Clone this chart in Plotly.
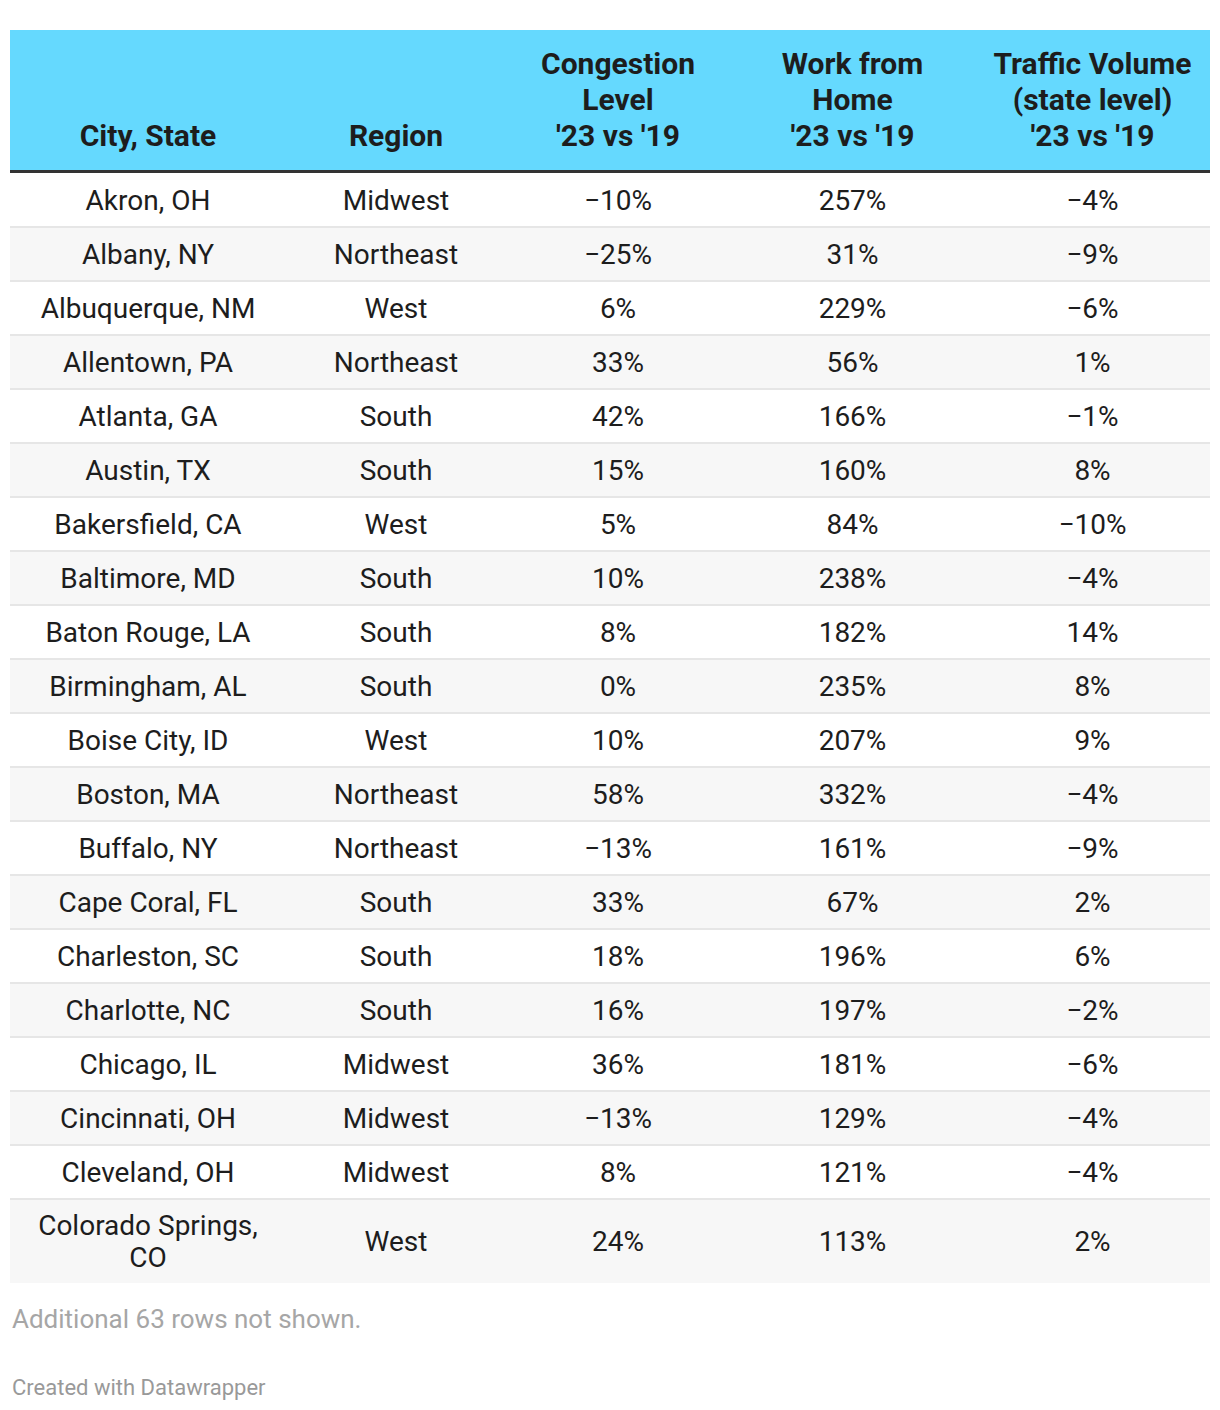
import plotly.graph_objects as go

# Table data
cities = ["Akron, OH", "Albany, NY", "Albuquerque, NM", "Allentown, PA", "Atlanta, GA",
          "Austin, TX", "Bakersfield, CA", "Baltimore, MD", "Baton Rouge, LA", "Birmingham, AL",
          "Boise City, ID", "Boston, MA", "Buffalo, NY", "Cape Coral, FL", "Charleston, SC",
          "Charlotte, NC", "Chicago, IL", "Cincinnati, OH", "Cleveland, OH", "Colorado Springs, CO"]
regions = ["Midwest", "Northeast", "West", "Northeast", "South",
           "South", "West", "South", "South", "South",
           "West", "Northeast", "Northeast", "South", "South",
           "South", "Midwest", "Midwest", "Midwest", "West"]
congestion = [-10, -25, 6, 33, 42, 15, 5, 10, 8, 0, 10, 58, -13, 33, 18, 16, 36, -13, 8, 24]
work_from_home = [257, 31, 229, 56, 166, 160, 84, 238, 182, 235, 207, 332, 161, 67, 196, 197, 181, 129, 121, 113]
traffic_volume = [-4, -9, -6, 1, -1, 8, -10, -4, 14, 8, 9, -4, -9, 2, 6, -2, -6, -4, -4, 2]

headers = ["City, State", "Region", "Congestion<br>Level<br>'23 vs '19",
           "Work from<br>Home<br>'23 vs '19", "Traffic Volume<br>(state level)<br>'23 vs '19"]
note = "Additional 63 rows not shown."
credit = "Created with Datawrapper"

# Layout / style (axis units = screen pixels; the page body adds an 8px margin)
W, H = 1220, 1410
PAGE_MARGIN = 8
LEFT = 10
col_widths = [276, 220, 224, 245, 235]
HEADER_TOP, HEADER_BOTTOM = 30, 170
HEADER_LAST_LINE = 135.5
HEADER_LINE_H = 36
RULE = 3
ROW_H = 54
BODY_LINE_H = 32
TEXT_NUDGE = 3
FONT = "Roboto, Arial, sans-serif"
TEXT_COLOR = "#1d1d1d"
HEADER_FILL = "#65d9fe"
ALT_FILL = "#f7f7f7"
SEP_COLOR = "#e6e6e6"


def pct(v):
    return ("\u2212" if v < 0 else "") + f"{abs(v)}%"


def wrap(name):
    return name.replace(", ", ",<br>") if len(name) > 18 else name


city_labels = [wrap(c) for c in cities]
n_lines = [lbl.count("<br>") + 1 for lbl in city_labels]

# column centers
centers = []
x = LEFT
for w in col_widths:
    centers.append(x + w / 2)
    x += w
right = x

# row geometry
row_tops, row_centers = [], []
y = HEADER_BOTTOM + RULE
for n in n_lines:
    h = ROW_H + (BODY_LINE_H - 2) * (n - 1)
    row_tops.append(y)
    row_centers.append(y + h / 2)
    y += h
table_bottom = y

shapes = [dict(type="rect", xref="x", yref="y", x0=LEFT, x1=right, y0=HEADER_TOP, y1=HEADER_BOTTOM,
               fillcolor=HEADER_FILL, line_width=0, layer="below")]
for i, top in enumerate(row_tops):
    bottom = row_tops[i + 1] if i + 1 < len(row_tops) else table_bottom
    if i % 2 == 1:
        shapes.append(dict(type="rect", xref="x", yref="y", x0=LEFT, x1=right, y0=top, y1=bottom,
                           fillcolor=ALT_FILL, line_width=0, layer="below"))
    if i > 0:
        shapes.append(dict(type="line", xref="x", yref="y", x0=LEFT, x1=right, y0=top, y1=top,
                           line=dict(color=SEP_COLOR, width=2), layer="below"))
shapes.append(dict(type="line", xref="x", yref="y", x0=LEFT, x1=right,
                   y0=HEADER_BOTTOM + RULE / 2, y1=HEADER_BOTTOM + RULE / 2,
                   line=dict(color="#333333", width=RULE)))

fig = go.Figure()

# header text, one point per line, bottom-aligned
for cx, h in zip(centers, headers):
    lines = h.split("<br>")
    ys = [HEADER_LAST_LINE + TEXT_NUDGE - HEADER_LINE_H * (len(lines) - 1 - k) for k in range(len(lines))]
    fig.add_trace(go.Scatter(
        x=[cx] * len(lines), y=ys, text=["<b>" + s + "</b>" for s in lines], mode="text",
        textposition="middle center",
        textfont=dict(family=FONT, size=30, color=TEXT_COLOR),
        hoverinfo="skip", showlegend=False))

# body text
columns = [city_labels, regions,
           [pct(v) for v in congestion],
           [pct(v) for v in work_from_home],
           [pct(v) for v in traffic_volume]]
for cx, col in zip(centers, columns):
    xs, ys, ts = [], [], []
    for yc, label in zip(row_centers, col):
        lines = label.split("<br>")
        for k, s in enumerate(lines):
            xs.append(cx)
            ys.append(yc + TEXT_NUDGE + (k - (len(lines) - 1) / 2) * BODY_LINE_H)
            ts.append(s)
    fig.add_trace(go.Scatter(
        x=xs, y=ys, text=ts, mode="text", textposition="middle center",
        textfont=dict(family=FONT, size=28, color=TEXT_COLOR),
        hoverinfo="skip", showlegend=False))

annotations = [
    dict(x=LEFT, y=table_bottom + 36, xref="x", yref="y", text=note, showarrow=False,
         xanchor="left", yanchor="middle", font=dict(family=FONT, size=26, color="#a6a6a6")),
    dict(x=LEFT, y=table_bottom + 104, xref="x", yref="y", text=credit, showarrow=False,
         xanchor="left", yanchor="middle", font=dict(family=FONT, size=22, color="#999999")),
]

fig.update_layout(
    width=W - 2 * PAGE_MARGIN, height=H - 2 * PAGE_MARGIN, margin=dict(l=0, r=0, t=0, b=0),
    paper_bgcolor="white", plot_bgcolor="white",
    xaxis=dict(range=[PAGE_MARGIN, W - PAGE_MARGIN], visible=False, fixedrange=True),
    yaxis=dict(range=[H - PAGE_MARGIN, PAGE_MARGIN], visible=False, fixedrange=True),
    shapes=shapes, annotations=annotations,
)

fig.write_html("out.html")
